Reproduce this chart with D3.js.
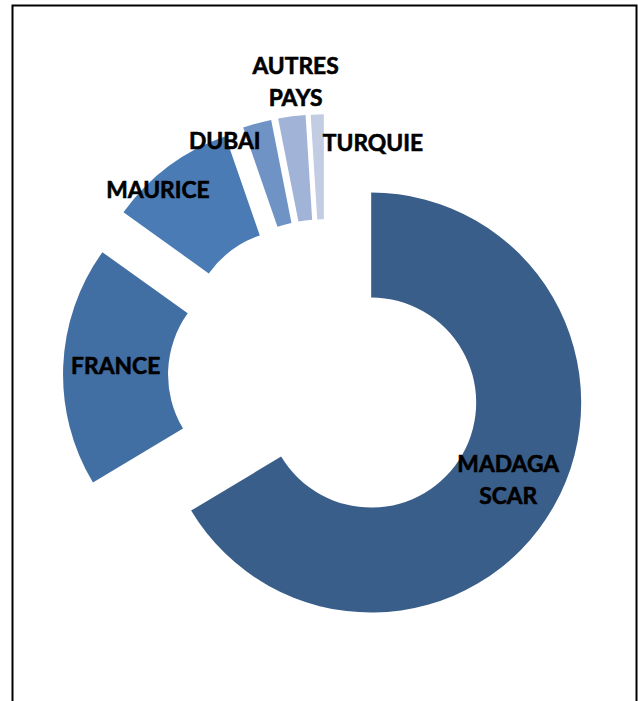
<!DOCTYPE html>
<html><head><meta charset="utf-8">
<script src="https://cdn.jsdelivr.net/npm/d3@7"></script>
<style>html,body{margin:0;padding:0;background:#fff;overflow:hidden;}</style>
</head><body>
<svg id="chart" width="638" height="701"></svg>
<script>
// ---- data ----
const categories = ["MADAGASCAR", "FRANCE", "MAURICE", "DUBAI", "AUTRES PAYS", "TURQUIE"];
const values = [66.4, 18.5, 9.8, 2.2, 2.1, 1.0];
const labelLines = [["MADAGA", "SCAR"], ["FRANCE"], ["MAURICE"], ["DUBAI"], ["AUTRES", "PAYS"], ["TURQUIE"]];

// ---- styles / layout ----
const colors = ["#3A5E8A", "#426FA3", "#4A7BB5", "#7093C6", "#A1B4D8", "#C2CDE4"];
const labelNudge = [[0, 0], [0, -2], [-42, -19], [-46, -33], [-3, -87], [54, -24]];
const W = 638, H = 701;
const cx = 325.5, cy = 376.7;
const outerR = 210, innerR = 105, explode = 52.5;
const fontSize = 22.8, capH = 0.7165 * fontSize, lineGap = 32;

const svg = d3.select("#chart");
svg.append("rect").attr("width", W).attr("height", H).attr("fill", "#fff");
svg.append("rect")
  .attr("x", 12.5).attr("y", 5.5).attr("width", 624).attr("height", 760)
  .attr("fill", "none").attr("stroke", "#000").attr("stroke-width", 2);

const pie = d3.pie().sort(null).startAngle(0).endAngle(2 * Math.PI);
const arcs = pie(values);
const arc = d3.arc().innerRadius(innerR).outerRadius(outerR);

const g = svg.append("g").attr("transform", `translate(${cx},${cy})`);

const slice = g.selectAll("g.slice").data(arcs).enter().append("g")
  .attr("class", "slice")
  .attr("transform", d => {
    const a = (d.startAngle + d.endAngle) / 2;
    return `translate(${explode * Math.sin(a)},${-explode * Math.cos(a)})`;
  });

slice.append("path")
  .attr("d", arc)
  .attr("fill", (d, i) => colors[i]);

slice.each(function(d, i) {
  const c = arc.centroid(d);
  const x = c[0] + labelNudge[i][0];
  const y = c[1] + labelNudge[i][1];
  const lines = labelLines[i];
  const n = lines.length;
  const t = d3.select(this).append("text")
    .attr("text-anchor", "middle")
    .attr("font-family", "Lato, 'Open Sans', sans-serif")
    .attr("font-weight", "bold")
    .attr("font-size", fontSize)
    .attr("fill", "#000")
    .attr("stroke", "#000")
    .attr("stroke-width", 0.6);
  lines.forEach((ln, k) => {
    t.append("tspan")
      .attr("x", x)
      .attr("y", y + capH / 2 + (k - (n - 1) / 2) * lineGap)
      .text(ln);
  });
});
</script>
</body></html>
